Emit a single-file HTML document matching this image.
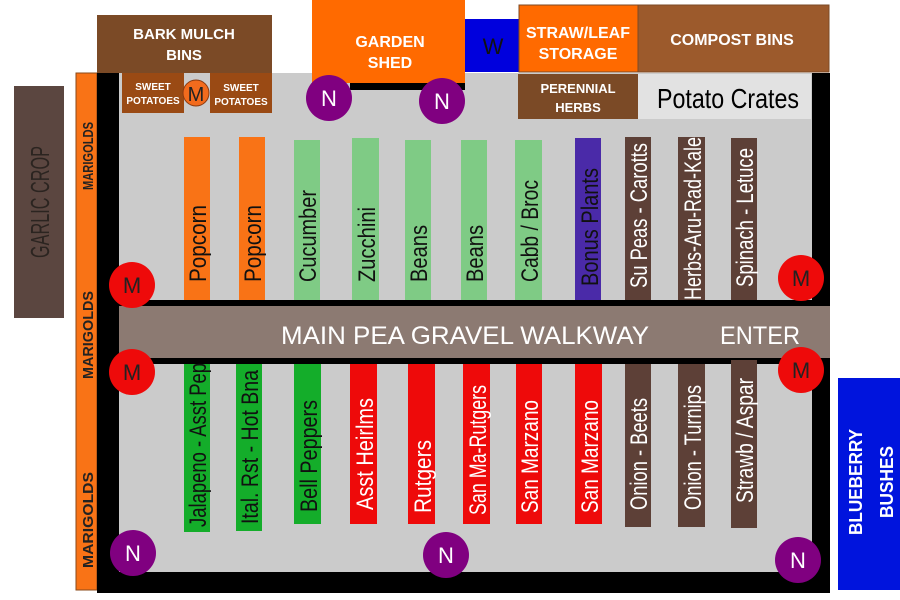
<!DOCTYPE html>
<html><head><meta charset="utf-8"><style>
html,body{margin:0;padding:0;background:#fff;width:900px;height:600px;overflow:hidden}
svg{display:block}
text{font-family:"Liberation Sans",sans-serif}
.b{font-weight:bold;fill:#fff}
</style></head><body>
<svg width="900" height="600" viewBox="0 0 900 600" xmlns="http://www.w3.org/2000/svg">
<rect x="14" y="86" width="50" height="232" fill="#5b4640"/>
<text transform="translate(49,202) rotate(-90)" font-size="26" fill="#2b2420" text-anchor="middle" textLength="112" lengthAdjust="spacingAndGlyphs">GARLIC CROP</text>
<rect x="76" y="73" width="21" height="517" fill="#f97316" stroke="#8a4a1a" stroke-width="1"/>
<text transform="translate(93,156) rotate(-90)" font-size="15" font-weight="bold" fill="#222" text-anchor="middle" textLength="68" lengthAdjust="spacingAndGlyphs">MARIGOLDS</text>
<text transform="translate(93,335) rotate(-90)" font-size="15" font-weight="bold" fill="#222" text-anchor="middle" textLength="88" lengthAdjust="spacingAndGlyphs">MARIGOLDS</text>
<text transform="translate(93,520) rotate(-90)" font-size="15" font-weight="bold" fill="#222" text-anchor="middle" textLength="96" lengthAdjust="spacingAndGlyphs">MARIGOLDS</text>
<rect x="97" y="73" width="733" height="520" fill="#000"/>
<rect x="119" y="73" width="693" height="227" fill="#cbcbcb"/>
<rect x="119" y="364" width="693" height="208" fill="#cbcbcb"/>
<rect x="119" y="306" width="711" height="52" fill="#8c7a72"/>
<text x="465" y="344" font-size="25" fill="#fff" text-anchor="middle" textLength="368" lengthAdjust="spacingAndGlyphs">MAIN PEA GRAVEL WALKWAY</text>
<text x="760" y="344" font-size="25" fill="#fff" text-anchor="middle" textLength="80" lengthAdjust="spacingAndGlyphs">ENTER</text>
<rect x="97" y="15" width="175" height="58" fill="#7b4a26"/>
<text x="184" y="39" font-size="15" class="b" text-anchor="middle">BARK MULCH</text>
<text x="184" y="60" font-size="15" class="b" text-anchor="middle">BINS</text>
<rect x="122" y="73" width="62" height="40" fill="#9a4a14"/>
<text x="153" y="90" font-size="10" class="b" text-anchor="middle">SWEET</text>
<text x="153" y="104" font-size="10" class="b" text-anchor="middle">POTATOES</text>
<rect x="210" y="73" width="62" height="40" fill="#9a4a14"/>
<text x="241" y="91" font-size="10" class="b" text-anchor="middle">SWEET</text>
<text x="241" y="105" font-size="10" class="b" text-anchor="middle">POTATOES</text>
<circle cx="196" cy="93" r="13" fill="#f26b1d" stroke="#8a3a10"/>
<text x="196" y="101" font-size="20" fill="#222" text-anchor="middle">M</text>
<rect x="312" y="0" width="153" height="83" fill="#ff6a00"/>
<rect x="350" y="83" width="115" height="7" fill="#000"/>
<text x="390" y="47" font-size="16" class="b" text-anchor="middle">GARDEN</text>
<text x="390" y="68" font-size="16" class="b" text-anchor="middle">SHED</text>
<rect x="465" y="19" width="54" height="53" fill="#0000dd"/>
<text x="493" y="54" font-size="22" fill="#111" text-anchor="middle">W</text>
<rect x="519" y="5" width="119" height="67" fill="#ff6a00" stroke="#7b4a26"/>
<text x="578" y="38" font-size="16" class="b" text-anchor="middle">STRAW/LEAF</text>
<text x="578" y="59" font-size="16" class="b" text-anchor="middle">STORAGE</text>
<rect x="638" y="5" width="191" height="67" fill="#9c5a2c" stroke="#7b4a26"/>
<text x="732" y="45" font-size="16" class="b" text-anchor="middle">COMPOST BINS</text>
<rect x="518" y="74" width="120" height="45" fill="#7b4a26"/>
<text x="578" y="93" font-size="13" class="b" text-anchor="middle">PERENNIAL</text>
<text x="578" y="112" font-size="13" class="b" text-anchor="middle">HERBS</text>
<rect x="638" y="74" width="173" height="45" fill="#e2e2e2"/>
<text x="728" y="108" font-size="28" fill="#000" text-anchor="middle" textLength="142" lengthAdjust="spacingAndGlyphs">Potato Crates</text>
<rect x="838" y="378" width="62" height="212" fill="#0014dd"/>
<text transform="translate(862,482) rotate(-90)" font-size="18" class="b" text-anchor="middle" textLength="106" lengthAdjust="spacingAndGlyphs">BLUEBERRY</text>
<text transform="translate(893,482) rotate(-90)" font-size="18" class="b" text-anchor="middle" textLength="72" lengthAdjust="spacingAndGlyphs">BUSHES</text>
<g font-size="24">
<rect x="184" y="137" width="26" height="163" fill="#f97316"/><text transform="translate(206,282) rotate(-90)" fill="#111" textLength="77" lengthAdjust="spacingAndGlyphs">Popcorn</text>
<rect x="239" y="137" width="26" height="163" fill="#f97316"/><text transform="translate(261,282) rotate(-90)" fill="#111" textLength="77" lengthAdjust="spacingAndGlyphs">Popcorn</text>
<rect x="294" y="140" width="26" height="160" fill="#7fcb85"/><text transform="translate(316,282) rotate(-90)" fill="#111" textLength="92" lengthAdjust="spacingAndGlyphs">Cucumber</text>
<rect x="352" y="138" width="27" height="162" fill="#7fcb85"/><text transform="translate(375,282) rotate(-90)" fill="#111" textLength="75" lengthAdjust="spacingAndGlyphs">Zucchini</text>
<rect x="405" y="140" width="26" height="160" fill="#7fcb85"/><text transform="translate(427,282) rotate(-90)" fill="#111" textLength="57" lengthAdjust="spacingAndGlyphs">Beans</text>
<rect x="461" y="140" width="26" height="160" fill="#7fcb85"/><text transform="translate(483,282) rotate(-90)" fill="#111" textLength="57" lengthAdjust="spacingAndGlyphs">Beans</text>
<rect x="515" y="140" width="27" height="160" fill="#7fcb85"/><text transform="translate(538,282) rotate(-90)" fill="#111" textLength="102" lengthAdjust="spacingAndGlyphs">Cabb / Broc</text>
<rect x="575" y="138" width="26" height="162" fill="#4a2aa8"/><text transform="translate(598,286) rotate(-90)" fill="#111" textLength="118" lengthAdjust="spacingAndGlyphs">Bonus Plants</text>
<rect x="625" y="137" width="26" height="163" fill="#5d4037"/><text transform="translate(647,288) rotate(-90)" fill="#fff" textLength="145" lengthAdjust="spacingAndGlyphs">Su Peas - Carotts</text>
<rect x="678" y="137" width="27" height="163" fill="#5d4037"/><text transform="translate(701,300) rotate(-90)" fill="#fff" textLength="163" lengthAdjust="spacingAndGlyphs">Herbs-Aru-Rad-Kale</text>
<rect x="731" y="138" width="26" height="162" fill="#5d4037"/><text transform="translate(753,287) rotate(-90)" fill="#fff" textLength="139" lengthAdjust="spacingAndGlyphs">Spinach - Letuce</text>
</g>
<g font-size="24">
<rect x="184" y="364" width="26" height="168" fill="#14ad2a"/><text transform="translate(206,527) rotate(-90)" fill="#111" textLength="164" lengthAdjust="spacingAndGlyphs">Jalapeno - Asst Pep</text>
<rect x="236" y="364" width="26" height="167" fill="#14ad2a"/><text transform="translate(258,524) rotate(-90)" fill="#111" textLength="154" lengthAdjust="spacingAndGlyphs">Ital. Rst - Hot Bna</text>
<rect x="294" y="364" width="27" height="160" fill="#14ad2a"/><text transform="translate(317,512) rotate(-90)" fill="#111" textLength="112" lengthAdjust="spacingAndGlyphs">Bell Peppers</text>
<rect x="350" y="364" width="27" height="160" fill="#ee0a0a"/><text transform="translate(373,510) rotate(-90)" fill="#fff" textLength="112" lengthAdjust="spacingAndGlyphs">Asst Heirlms</text>
<rect x="408" y="364" width="27" height="160" fill="#ee0a0a"/><text transform="translate(431,513) rotate(-90)" fill="#fff" textLength="73" lengthAdjust="spacingAndGlyphs">Rutgers</text>
<rect x="463" y="364" width="27" height="160" fill="#ee0a0a"/><text transform="translate(486,515) rotate(-90)" fill="#fff" textLength="130" lengthAdjust="spacingAndGlyphs">San Ma-Rutgers</text>
<rect x="516" y="364" width="26" height="160" fill="#ee0a0a"/><text transform="translate(538,513) rotate(-90)" fill="#fff" textLength="113" lengthAdjust="spacingAndGlyphs">San Marzano</text>
<rect x="575" y="364" width="27" height="160" fill="#ee0a0a"/><text transform="translate(598,513) rotate(-90)" fill="#fff" textLength="113" lengthAdjust="spacingAndGlyphs">San Marzano</text>
<rect x="625" y="364" width="26" height="163" fill="#5d4037"/><text transform="translate(647,510) rotate(-90)" fill="#fff" textLength="112" lengthAdjust="spacingAndGlyphs">Onion - Beets</text>
<rect x="678" y="364" width="27" height="163" fill="#5d4037"/><text transform="translate(701,510) rotate(-90)" fill="#fff" textLength="125" lengthAdjust="spacingAndGlyphs">Onion - Turnips</text>
<rect x="731" y="360" width="26" height="168" fill="#5d4037"/><text transform="translate(753,503) rotate(-90)" fill="#fff" textLength="125" lengthAdjust="spacingAndGlyphs">Strawb / Aspar</text>
</g>
<g font-size="22" text-anchor="middle">
<circle cx="329" cy="98" r="23" fill="#800080"/><text x="329" y="106" fill="#fff">N</text>
<circle cx="442" cy="101" r="23" fill="#800080"/><text x="442" y="109" fill="#fff">N</text>
<circle cx="133" cy="553" r="23" fill="#800080"/><text x="133" y="561" fill="#fff">N</text>
<circle cx="446" cy="555" r="23" fill="#800080"/><text x="446" y="563" fill="#fff">N</text>
<circle cx="798" cy="560" r="23" fill="#800080"/><text x="798" y="568" fill="#fff">N</text>
<circle cx="132" cy="285" r="23" fill="#ee0a0a"/><text x="132" y="293" fill="#222">M</text>
<circle cx="132" cy="372" r="23" fill="#ee0a0a"/><text x="132" y="380" fill="#222">M</text>
<circle cx="801" cy="278" r="23" fill="#ee0a0a"/><text x="801" y="286" fill="#222">M</text>
<circle cx="801" cy="370" r="23" fill="#ee0a0a"/><text x="801" y="378" fill="#222">M</text>
</g>
</svg>
</body></html>
